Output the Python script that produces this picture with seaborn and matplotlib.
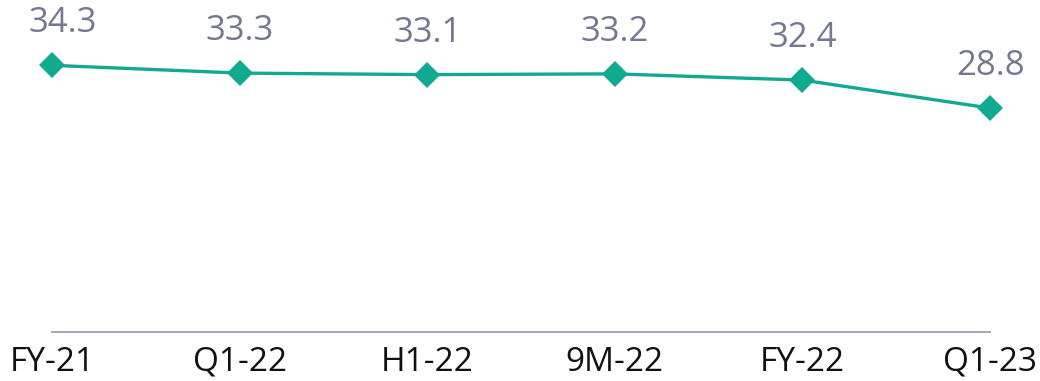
import matplotlib
matplotlib.use("Agg")
import matplotlib.pyplot as plt
import seaborn as sns
import pandas as pd


# ======================================
# DATA
# ======================================

periods = ["FY-21", "Q1-22", "H1-22", "9M-22", "FY-22", "Q1-23"]
values = [34.3, 33.3, 33.1, 33.2, 32.4, 28.8]

df = pd.DataFrame({"period": periods, "value": values})


# ======================================
# STYLE
# ======================================

sns.set_style("white")
plt.rcParams["font.family"] = ["Open Sans", "DejaVu Sans"]

LINE_COLOR = "#12a991"
LABEL_COLOR = "#737a8f"
AXIS_COLOR = "#a3aabb"


# ======================================
# PLOT
# ======================================

fig = plt.figure(figsize=(10.4, 3.81), dpi=100)
ax = fig.add_axes([0.05, 0.1286, 0.902, 0.8714])

sns.lineplot(
    data=df,
    x="period",
    y="value",
    sort=False,
    color=LINE_COLOR,
    linewidth=2.4,
    marker="D",
    markersize=13,
    markeredgewidth=0,
    ax=ax
)

for line in ax.lines:
    line.set_clip_on(False)

for i, v in enumerate(values):

    # first label sits a bit right so it is not cut at the edge
    shift = 8 if i == 0 else 0

    ax.annotate(
        f"{v:.1f}",
        xy=(i, v),
        xytext=(shift, 18),
        textcoords="offset points",
        ha="center",
        va="bottom",
        fontsize=25,
        color=LABEL_COLOR
    )

ax.set_xlim(0, len(periods) - 1)
ax.set_ylim(0, 42.7)

ax.set_xlabel("")
ax.set_ylabel("")
ax.set_yticks([])

for side in ["top", "right", "left"]:
    ax.spines[side].set_visible(False)

ax.spines["bottom"].set_color(AXIS_COLOR)
ax.spines["bottom"].set_linewidth(1.5)

ax.tick_params(axis="x", length=0, pad=10, labelsize=24, labelcolor="#111111")

plt.savefig("out.png", dpi=100)
